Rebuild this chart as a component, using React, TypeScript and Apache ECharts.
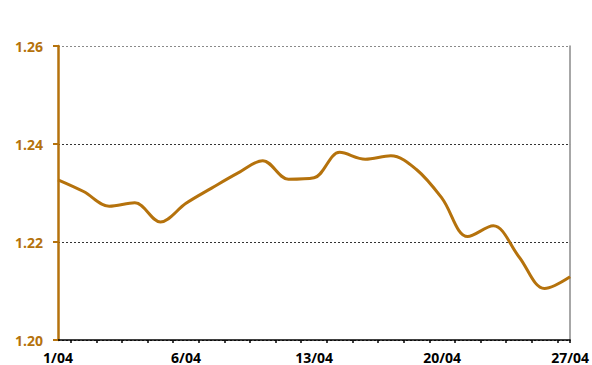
import React, { useEffect, useRef } from "react";
import * as echarts from "echarts";

// Trading-day positions along the x axis and the matching closing values
const dayIndex = [0, 1, 2, 3, 4, 5, 6, 7, 8, 9, 10, 11, 12, 13, 14, 15, 16, 17, 18, 19, 20];
const rates = [
  1.2327, 1.2303, 1.2273, 1.228, 1.2241, 1.2279, 1.231, 1.234, 1.2366, 1.2328, 1.2331,
  1.2383, 1.2369, 1.2376, 1.2348, 1.2289, 1.2211, 1.2233, 1.217, 1.2105, 1.2129,
];

// Date labels shown under the x axis, keyed by position
const dateLabelPositions = [0, 5, 10, 15, 20];
const dateLabels = ["1/04", "6/04", "13/04", "20/04", "27/04"];
const minorTickPositions = [
  0.5, 1.5, 2.5, 3.5, 4.5, 5.5, 6.5, 7.5, 8.5, 9.5, 10.5, 11.5, 12.5, 13.5, 14.5, 15.5,
  16.5, 17.5, 18.5, 19.5, 20,
];

// Value axis ticks
const yMin = 1.2;
const yMax = 1.26;
const yStep = 0.02;

const BROWN = "#B5720C";

export default function App() {
  const ref = useRef<HTMLDivElement>(null);

  useEffect(() => {
    document.body.style.margin = "0";
    if (!ref.current) return;
    const chart = echarts.init(ref.current, undefined, { renderer: "svg" });
    const fontFamily = "'Open Sans', sans-serif";

    chart.setOption({
      animation: false,
      backgroundColor: "#ffffff",
      grid: { left: 58, right: 21, top: 46, bottom: 25, containLabel: false },
      xAxis: {
        type: "value",
        min: 0,
        max: 20,
        interval: 0.5,
        axisLine: { show: true, lineStyle: { color: "#000000", width: 1.5 } },
        axisTick: {
          show: true,
          customValues: minorTickPositions,
          length: 3,
          lineStyle: { color: "#000000", width: 1.5 },
        },
        axisLabel: {
          customValues: dateLabelPositions,
          formatter: (v: number) => {
            const i = dateLabelPositions.indexOf(Math.round(v));
            return i >= 0 ? dateLabels[i] : "";
          },
          color: "#000000",
          fontWeight: "bold",
          fontSize: 14,
          fontFamily,
          margin: 10,
          showMinLabel: true,
          showMaxLabel: true,
        },
        splitLine: { show: false },
      },
      yAxis: [
        {
          type: "value",
          min: yMin,
          max: yMax,
          interval: yStep,
          axisLine: { show: true, lineStyle: { color: BROWN, width: 2.5 } },
          axisTick: { show: true, length: 5, lineStyle: { color: BROWN, width: 2 } },
          axisLabel: {
            color: BROWN,
            fontWeight: "bold",
            fontSize: 14,
            fontFamily,
            margin: 15,
            formatter: (v: number) => v.toFixed(2),
          },
          splitLine: {
            show: true,
            // the top line of the plot is lighter than the inner gridlines
            lineStyle: {
              color: ["#333333", "#333333", "#333333", "#8a8a8a"],
              type: [2, 2],
              width: 1,
            },
          },
        },
        {
          type: "value",
          position: "right",
          min: yMin,
          max: yMax,
          interval: yStep,
          axisLine: { show: true, lineStyle: { color: "#8a8a8a", width: 1.5 } },
          axisTick: { show: false },
          axisLabel: { show: false },
          splitLine: { show: false },
        },
      ],
      series: [
        {
          type: "line",
          data: dayIndex.map((d, i) => [d, rates[i]]),
          smooth: 0.35,
          symbol: "none",
          lineStyle: { color: BROWN, width: 3 },
          z: 5,
        },
      ],
    });

    return () => chart.dispose();
  }, []);

  return <div ref={ref} style={{ width: 592, height: 365 }} />;
}
